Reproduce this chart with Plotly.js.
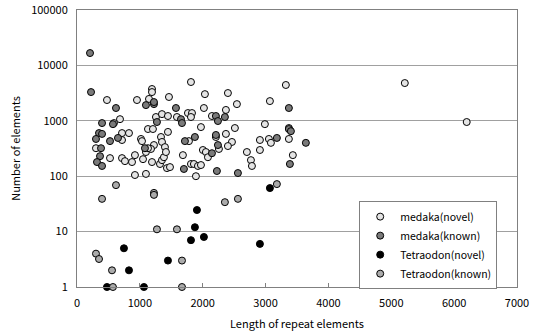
<!DOCTYPE html>
<html>
<head>
<meta charset="utf-8">
<script src="https://cdn.plot.ly/plotly-3.0.1.min.js"></script>
<style>html,body{margin:0;padding:0;background:#fff;}#chart{width:534px;height:335px;}</style>
</head>
<body>
<div id="chart"></div>
<script>
// medaka(novel)
var medakaNovelX = [477,954,1193,1193,1145,1463,1813,2035,2019,684,588,1256,1352,1447,1590,1765,1829,1813,1972,2147,716,827,716,1018,1034,1129,1208,1224,1336,1352,1399,1447,1781,302,1097,525,716,763,875,922,1050,1177,1193,1320,1352,1383,1415,1431,1479,1685,1813,1860,1924,1972,2003,2051,2083,1892,922,1097,3323,2401,2544,3069,2369,2989,2512,2369,2210,3371,2910,3053,3085,3371,2465,2401,2258,2703,2910,3434,2767,2783,5215,6200,1129];
var medakaNovelY = [2370,2370,3750,3300,2480,2690,5010,3030,1700,1070,910,1170,1320,1220,1170,1380,1380,1170,770,1220,600,600,450,470,430,710,710,365,510,415,335,630,430,320,273,212,212,187,180,240,203,310,180,166,195,220,273,140,146,240,166,166,153,159,297,273,220,100,105,110,4430,3170,2000,2270,1570,870,740,580,510,740,450,470,400,470,415,350,310,273,297,240,195,153,4800,950,320];
// medaka(known)
var medakaKnownX = [207,223,620,1097,1224,1224,1574,398,572,1272,1654,1670,350,398,302,525,652,1717,1876,382,1081,2147,366,318,398,1701,2210,2242,2353,3371,2210,3371,3403,3180,3641,2242,3387,2226,2560];
var medakaKnownY = [16700,3300,1700,1920,2000,2180,1700,910,870,950,1070,910,600,580,470,430,490,430,510,320,320,260,230,180,153,135,1220,990,1170,1700,555,710,650,490,400,365,166,124,114];
// Tetraodon(novel)
var tetraNovelX = [1908,1876,1813,2019,747,827,1447,477,1065,3069,2910];
var tetraNovelY = [24.5,12,7,8,5,2,3,1,1,61,6];
// Tetraodon(known)
var tetraKnownX = [620,1224,1224,398,1272,1590,302,350,557,1670,572,1670,2353,2560,3180];
var tetraKnownY = [69,50,46,39,11,11,4,3.2,2,3,1,1,34,39,72];

var seriesNames = ["medaka(novel)","medaka(known)","Tetraodon(novel)","Tetraodon(known)"];
var yTickVals = [1,10,100,1000,10000,100000];
var yTickText = ["1","10","100","1000","10000","100000"];
var xTickVals = [0,1000,2000,3000,4000,5000,6000,7000];

var fontFam = '"Noto Sans CJK JP", "DejaVu Sans", sans-serif';
function tr(x, y, name, fill) {
  return {
    x: x, y: y, name: name, type: 'scatter', mode: 'markers', cliponaxis: false,
    marker: {symbol: 'circle', size: 7, color: fill, line: {color: '#000', width: 1}}
  };
}
var data = [
  tr(medakaNovelX, medakaNovelY, seriesNames[0], '#e4e4e4'),
  tr(medakaKnownX, medakaKnownY, seriesNames[1], '#7a7a7a'),
  tr(tetraNovelX, tetraNovelY, seriesNames[2], '#000000'),
  tr(tetraKnownX, tetraKnownY, seriesNames[3], '#ababab')
];
var layout = {
  width: 534, height: 335,
  margin: {l: 77, r: 17, t: 10, b: 48},
  paper_bgcolor: '#fff', plot_bgcolor: '#fff',
  font: {family: fontFam, size: 11, color: '#000'},
  showlegend: true,
  xaxis: {
    range: [0, 7000], tickvals: xTickVals, ticktext: xTickVals.map(String),
    showgrid: false, zeroline: false,
    showline: true, linecolor: '#808080', linewidth: 1, mirror: true,
    ticks: 'inside', ticklen: 4, tickcolor: '#808080',
    ticklabelstandoff: 6,
    title: {text: 'Length of repeat elements', font: {size: 11}, standoff: 11}
  },
  yaxis: {
    type: 'log', range: [0, 5], tickvals: yTickVals, ticktext: yTickText,
    showgrid: true, gridcolor: '#a0a0a0', gridwidth: 1, zeroline: false,
    showline: true, linecolor: '#808080', linewidth: 1, mirror: true,
    ticks: '', ticklabelstandoff: 6,
    title: {text: 'Number of elements', font: {size: 11}, standoff: 8}
  },
  legend: {
    x: 0.955, xanchor: 'right', y: 0.31, yanchor: 'top',
    bgcolor: '#fff', bordercolor: '#808080', borderwidth: 1,
    font: {size: 10.5}, tracegroupgap: 0, itemwidth: 30
  }
};
Plotly.newPlot('chart', data, layout, {displayModeBar: false, staticPlot: true});
</script>
</body>
</html>
